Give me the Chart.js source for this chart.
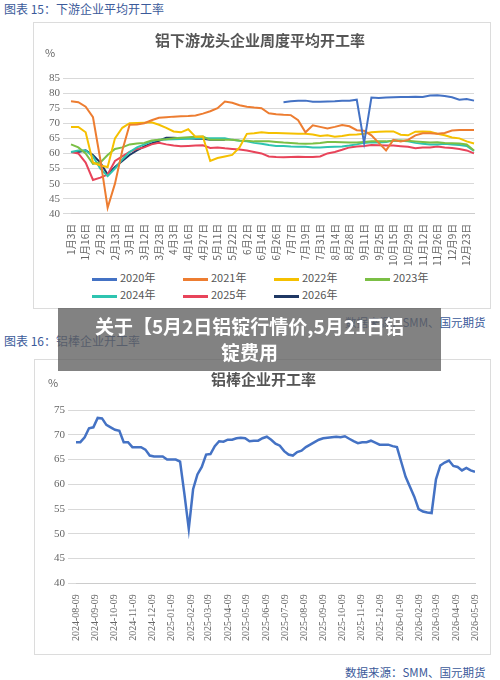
<!DOCTYPE html>
<html><head><meta charset="utf-8">
<script src="https://cdn.jsdelivr.net/npm/chart.js@4"></script>
<style>
body{margin:0;width:500px;height:680px;background:#fff;position:relative;font-family:"Noto Sans CJK SC",sans-serif;overflow:hidden}
.abs{position:absolute}
.hdr{color:#3b5a9a;font-size:12px}
.box{border:1.5px solid #dcdcdc;background:#fff}
.src{font-size:11.5px;color:#3b5a9a}
#leg{left:92px;top:269px;width:380px;font-size:11px;color:#555}
#leg span{display:inline-block;width:91px;height:17px;line-height:17px}
#leg i{display:inline-block;width:25px;height:3px;vertical-align:middle;margin-right:3px}
</style></head><body>
<div class="abs hdr" style="left:4px;top:0px">图表 15：下游企业平均开工率</div>
<div class="abs box" style="left:33px;top:22px;width:456px;height:285px"><canvas id="c1" width="456" height="245"></canvas></div>
<div class="abs" id="leg"></div>
<div class="abs" style="left:45px;top:44px;font-size:11px;color:#666">%</div>
<div class="abs src" style="left:345px;top:314px">数据来源：SMM、国元期货</div>
<div class="abs hdr" style="left:4px;top:332px">图表 16：铝棒企业开工率</div>
<div class="abs box" style="left:34px;top:359px;width:455px;height:294px"><canvas id="c2" width="455" height="294"></canvas></div>
<div class="abs" style="left:48px;top:374px;font-size:11px;color:#666">%</div>
<div class="abs src" style="left:345px;top:664px">数据来源：SMM、国元期货</div>
<div class="abs" style="left:58px;top:308px;width:383px;height:63px;background:rgba(95,95,95,0.78);color:#fff;font-weight:bold;font-size:19px;line-height:26px;text-align:center;padding:5px 30px 0;box-sizing:border-box">关于【5月2日铝锭行情价,5月21日铝锭费用</div>
<script>
const tickLabels=["1月3日","1月16日","2月2日","2月13日","3月1日","3月12日","3月23日","4月3日","4月16日","4月27日","5月11日","5月22日","6月2日","6月14日","6月26日","7月7日","7月19日","7月31日","8月14日","8月28日","9月11日","9月25日","10月15日","10月29日","11月12日","11月26日","12月9日","12月23日"];
const categories=[];tickLabels.forEach(l=>{categories.push(l);categories.push("");});
const N=null;
const s2020=[N,N,N,N,N,N,N,N,N,N,N,N,N,N,N,N,N,N,N,N,N,N,N,N,N,N,N,N,N,77,77.3,77.5,77.5,77.1,77.1,77.2,77.3,77.5,77.5,77.8,63.5,78.5,78.4,78.5,78.6,78.7,78.7,78.8,78.7,79.2,79.3,79,78.6,77.8,78,77.5];
const s2021=[77.3,77,75.5,72,58,42,50,61,69.5,69.6,70,71,71.8,72,72.2,72.3,72.4,72.6,73.2,74,75,77.2,76.8,76,75.5,75.2,75,73.3,73,72.8,72.7,71,67,69.3,68.8,68.3,68.8,69.4,69,67.7,67.5,66,63.5,61,64.5,64,64.5,66,66.7,66.7,66.5,66.8,67.6,67.8,67.8,67.8];
const s2022=[68.8,68.8,67,57,56,55.5,65,68.5,70,70.1,70.2,70.3,69.5,68.5,67.3,67,68,65.5,65.6,57.5,58.5,59,59.5,62,66.5,66.7,67,66.8,66.8,66.7,66.6,66.5,66.5,66.3,65.8,66,65.5,65.8,66.2,66.3,66.5,67,67.2,67.3,67.3,66.2,66,67.2,67.3,67.2,66.5,66,65.3,65,64,63.3];
const s2023=[63,62,60,56.5,57,59.5,61.5,62,63,63.3,63.5,64.3,64.5,64.7,65,65.2,65.4,65.5,65.6,64.5,64.5,64.5,64.5,64.3,64.2,64,64,64,63.8,63.6,63.5,63.3,63.2,63.3,63.5,63.8,63.8,63.7,63.6,63.6,63.8,64,64,64,64.2,64.3,64.2,64,63.8,63.6,63.7,63.5,63.4,63.3,63,61];
const s2024=[60.5,61,61,59,55,52.5,55,58,60.5,62,63,64,64.5,64.6,64.7,64.8,64.9,65,65,65,65,65,64.5,64.2,64,63.5,63.2,62.8,62.5,62.5,62.3,62.2,62.2,62,62,62.1,62.2,62.3,62.6,63,63.5,63.7,63.6,63.8,64.3,64.2,64,63.5,63.2,63,63,63.2,63,62.8,62.5,60.8];
const s2025=[60.5,60,57,51.2,52,53,57.5,59,60.5,61.5,62,63,63.5,63,62.6,62.4,62.5,62.6,62.7,61.8,62,61.7,61.5,61.3,61,60.5,60,59,58.8,58.7,58.8,58.9,58.8,58.8,59,60,60.5,61.2,62,62.3,62.5,62.8,62.7,62.6,62.6,62.4,62.2,61.7,62,62,62.3,62,61.8,61.5,61,60];
const s2026=[60.5,60.5,61,59.5,57,53,55.5,57.5,59.5,61,62.3,63.3,64.2,65.2,65.2,65,65,64.9,64.9,64.5,64.5,64.5];
const seriesNames=["2020年","2021年","2022年","2023年","2024年","2025年","2026年"];
const seriesData=[s2020,s2021,s2022,s2023,s2024,s2025,s2026];
const colors=["#4472C4","#ED7D31","#F5C000","#7BBF45","#2EC4B0","#E8445A","#1F3864"];
document.getElementById('leg').innerHTML=seriesNames.map((n,i)=>`<span><i style="background:${colors[i]}"></i>${n}</span>`).join('');
const font={family:"Noto Sans CJK SC",size:10};
new Chart(document.getElementById('c1'),{type:'line',
data:{labels:categories,datasets:seriesNames.map((n,i)=>({label:n,data:seriesData[i],borderColor:colors[i],backgroundColor:colors[i],borderWidth:2,pointRadius:0,tension:0,spanGaps:false}))},
options:{responsive:false,animation:false,layout:{padding:{left:12,right:16,top:0,bottom:0}},
plugins:{title:{display:true,text:"铝下游龙头企业周度平均开工率",color:"#555",font:{family:"Noto Sans CJK SC",size:15,weight:'bold'},padding:{top:8,bottom:29}},
legend:{display:false},tooltip:{enabled:false}},
scales:{x:{grid:{display:false},border:{color:"#ccc"},ticks:{autoSkip:false,maxRotation:90,minRotation:90,color:"#666",font,padding:2}},
y:{min:40,max:85,ticks:{stepSize:5,autoSkip:false,color:"#666",font:{family:"Liberation Serif",size:11}},grid:{color:"#d9d9d9"},border:{display:false}}}}});

const barStart="2024-08-09";
const monthLabels=["2024-08-09","2024-09-09","2024-10-09","2024-11-09","2024-12-09","2025-01-09","2025-02-09","2025-03-09","2025-04-09","2025-05-09","2025-06-09","2025-07-09","2025-08-09","2025-09-09","2025-10-09","2025-11-09","2025-12-09","2026-01-09","2026-02-09","2026-03-09","2026-04-09","2026-05-09"];
const barRate=[68.5,68.5,69.5,71.3,71.5,73.4,73.3,72,71.5,71,70.8,68.5,68.5,67.5,67.5,67.5,67,65.8,65.6,65.6,65.6,65,65,65,64.6,58,51,59,62,63.5,66,66.1,67.7,68.7,68.6,69,69,69.3,69.4,69.3,68.7,68.8,68.8,69.3,69.6,69,68.2,67.8,66.7,66,65.8,66.5,66.8,67.5,68,68.5,69,69.3,69.4,69.5,69.6,69.5,69.7,69.2,68.7,68.3,68.5,68.5,68.8,68.4,68,68,68,67.7,67.5,64.5,61.5,59.5,57.5,55,54.5,54.3,54.2,61,63.8,64.4,64.8,63.7,63.5,62.8,63.3,62.8,62.5];
const day=s=>(Date.parse(s)-Date.parse(barStart))/86400000;
const endDay=day(monthLabels[monthLabels.length-1]);
const step=endDay/(barRate.length-1);
const pts=barRate.map((v,i)=>({x:i*step,y:v}));
new Chart(document.getElementById('c2'),{type:'line',
data:{datasets:[{data:pts,borderColor:"#4472C4",borderWidth:2.5,pointRadius:0,tension:0}]},
options:{responsive:false,animation:false,layout:{padding:{left:16,right:14,top:4,bottom:10}},
plugins:{legend:{display:false},tooltip:{enabled:false},title:{display:true,text:"铝棒企业开工率",color:"#555",font:{family:"Noto Sans CJK SC",size:15,weight:'bold'},padding:{top:6,bottom:22}}},
scales:{x:{type:'linear',min:0,max:endDay,afterBuildTicks:a=>{a.ticks=monthLabels.map(m=>({value:day(m)}));},
ticks:{autoSkip:false,maxRotation:90,minRotation:90,color:"#666",font:{family:"Liberation Serif",size:10},callback:(v,i)=>monthLabels[i]},grid:{display:false},border:{color:"#ccc"}},
y:{min:40,max:75,ticks:{stepSize:5,color:"#666",font:{family:"Liberation Serif",size:11}},grid:{color:"#d9d9d9"},border:{display:false}}}}});
</script></body></html>
